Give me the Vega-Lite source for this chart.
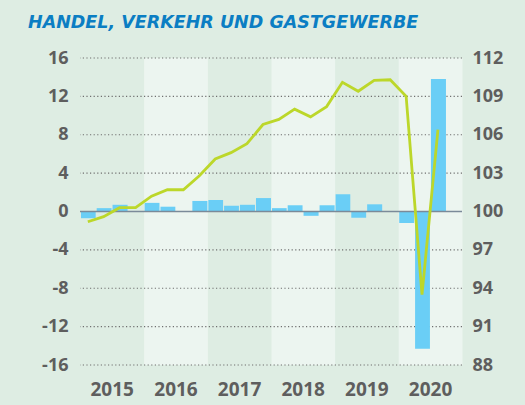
{
  "$schema": "https://vega.github.io/schema/vega-lite/v6.json",
  "width": 382,
  "height": 307,
  "autosize": "none",
  "padding": {"left": 80, "top": 58, "right": 63, "bottom": 40},
  "background": "#deede3",
  "config": {
    "view": {"stroke": null},
    "font": "Open Sans",
    "axis": {
      "labelFont": "Open Sans",
      "labelFontSize": 18,
      "labelFontWeight": "bold",
      "labelColor": "#5e5e5e",
      "labelOverlap": false,
      "domain": false,
      "ticks": false,
      "grid": false,
      "title": null
    }
  },
  "title": {
    "text": "HANDEL, VERKEHR UND GASTGEWERBE",
    "anchor": "start",
    "frame": "group",
    "font": "DejaVu Sans",
    "fontSize": 17.5,
    "fontWeight": "bold",
    "fontStyle": "italic",
    "color": "#0b7ec3",
    "dx": -52,
    "offset": 18
  },
  "layer": [
    {
      "layer": [
        {
          "data": {"values": [{"year": "2016-01-01"}, {"year": "2018-01-01"}, {"year": "2020-01-01"}]},
          "mark": {"type": "rect", "color": "#ecf5f0", "timeUnitBandSize": 1},
          "encoding": {
            "x": {
              "field": "year", "type": "temporal", "timeUnit": "utcyear",
              "scale": {"type": "utc", "domain": [{"year": 2015, "month": 1, "date": 1, "utc": true}, {"year": 2021, "month": 1, "date": 1, "utc": true}]},
              "axis": {
                "values": [
                  {"year": 2015, "month": 7, "date": 2, "utc": true},
                  {"year": 2016, "month": 7, "date": 2, "utc": true},
                  {"year": 2017, "month": 7, "date": 2, "utc": true},
                  {"year": 2018, "month": 7, "date": 2, "utc": true},
                  {"year": 2019, "month": 7, "date": 2, "utc": true},
                  {"year": 2020, "month": 7, "date": 2, "utc": true}
                ],
                "format": "%Y",
                "formatType": "utc",
                "labelPadding": 15,
                "labelFontSize": 19,
                "labelFlush": false,
                "labelOverlap": false
              }
            }
          }
        },
        {
          "data": {"values": [{"g": -16}, {"g": -12}, {"g": -8}, {"g": -4}, {"g": 4}, {"g": 8}, {"g": 12}, {"g": 16}]},
          "mark": {"type": "rule", "color": "#6f6f6f", "strokeDash": [1.2, 2.4], "strokeWidth": 1.2},
          "encoding": {
            "y": {
              "field": "g", "type": "quantitative",
              "scale": {"domain": [-16, 16], "nice": false, "zero": false},
              "axis": {"orient": "left", "tickCount": 16, "labelPadding": 12, "labelOverlap": false, "labelExpr": "datum.value % 4 === 0 ? '' + datum.value : ''"}
            }
          }
        },
        {
          "data": {"values": [
            {"date": "2015-01-01", "v": -0.7},
            {"date": "2015-04-01", "v": 0.35},
            {"date": "2015-07-01", "v": 0.7},
            {"date": "2015-10-01", "v": 0},
            {"date": "2016-01-01", "v": 0.9},
            {"date": "2016-04-01", "v": 0.5},
            {"date": "2016-07-01", "v": 0},
            {"date": "2016-10-01", "v": 1.1},
            {"date": "2017-01-01", "v": 1.2},
            {"date": "2017-04-01", "v": 0.6},
            {"date": "2017-07-01", "v": 0.7},
            {"date": "2017-10-01", "v": 1.4},
            {"date": "2018-01-01", "v": 0.35},
            {"date": "2018-04-01", "v": 0.65},
            {"date": "2018-07-01", "v": -0.45},
            {"date": "2018-10-01", "v": 0.65},
            {"date": "2019-01-01", "v": 1.8},
            {"date": "2019-04-01", "v": -0.65},
            {"date": "2019-07-01", "v": 0.75},
            {"date": "2019-10-01", "v": 0},
            {"date": "2020-01-01", "v": -1.2},
            {"date": "2020-04-01", "v": -14.3},
            {"date": "2020-07-01", "v": 13.8}
          ]},
          "mark": {"type": "bar", "color": "#6acef6", "timeUnitBandSize": 0.75, "timeUnitBandPosition": 0.125},
          "encoding": {
            "x": {"field": "date", "type": "temporal", "timeUnit": "utcyearquarter"},
            "y": {"field": "v", "type": "quantitative"}
          }
        },
        {
          "data": {"values": [{"z": 0}]},
          "mark": {"type": "rule", "color": "#7b8a99", "strokeWidth": 1.6},
          "encoding": {"y": {"field": "z", "type": "quantitative"}}
        }
      ]
    },
    {
      "data": {"values": [
        {"date": "2015-01-01", "idx": 99.2},
        {"date": "2015-04-01", "idx": 99.6},
        {"date": "2015-07-01", "idx": 100.3},
        {"date": "2015-10-01", "idx": 100.3},
        {"date": "2016-01-01", "idx": 101.2},
        {"date": "2016-04-01", "idx": 101.7},
        {"date": "2016-07-01", "idx": 101.7},
        {"date": "2016-10-01", "idx": 102.8},
        {"date": "2017-01-01", "idx": 104.1},
        {"date": "2017-04-01", "idx": 104.6},
        {"date": "2017-07-01", "idx": 105.3},
        {"date": "2017-10-01", "idx": 106.8},
        {"date": "2018-01-01", "idx": 107.2},
        {"date": "2018-04-01", "idx": 108.0},
        {"date": "2018-07-01", "idx": 107.4},
        {"date": "2018-10-01", "idx": 108.2},
        {"date": "2019-01-01", "idx": 110.1},
        {"date": "2019-04-01", "idx": 109.4},
        {"date": "2019-07-01", "idx": 110.25},
        {"date": "2019-10-01", "idx": 110.3},
        {"date": "2020-01-01", "idx": 109.0},
        {"date": "2020-04-01", "idx": 93.5},
        {"date": "2020-07-01", "idx": 106.4}
      ]},
      "mark": {"type": "line", "color": "#bcd72a", "strokeWidth": 2.8},
      "encoding": {
        "x": {"field": "date", "type": "temporal", "timeUnit": "utcyearquarter", "bandPosition": 0.5},
        "y": {
          "field": "idx", "type": "quantitative",
          "scale": {"domain": [88, 112], "nice": false, "zero": false},
          "axis": {"orient": "right", "values": [88, 91, 94, 97, 100, 103, 106, 109, 112], "labelPadding": 10, "labelOverlap": false}
        }
      }
    }
  ],
  "resolve": {"scale": {"y": "independent"}}
}
